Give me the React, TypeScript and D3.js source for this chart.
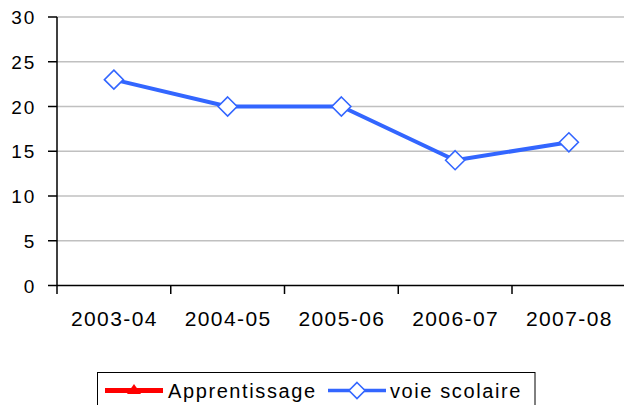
import React from "react";
import * as d3 from "d3";

const categories = ["2003-04", "2004-05", "2005-06", "2006-07", "2007-08"];
const voieScolaire = [23, 20, 20, 14, 16];
const apprentissage: (number | null)[] = [null, null, null, null, null];
const yTicks = [0, 5, 10, 15, 20, 25, 30];
const seriesNames = ["Apprentissage", "voie scolaire"];

const W = 624;
const H = 405;
const FONT = "'Liberation Sans', Arial, sans-serif";

export default function App() {
  const x = d3.scaleBand<string>().domain(categories).range([57, 625.75]);
  const y = d3.scaleLinear().domain([0, 30]).range([285.5, 17]);
  const xc = (c: string) => (x(c) as number) + x.bandwidth() / 2;

  const line = d3
    .line<number>()
    .x((_, i) => xc(categories[i]))
    .y((d) => y(d));

  const diamond = (cx: number, cy: number, r: number) =>
    `M${cx},${cy - r}L${cx + r},${cy}L${cx},${cy + r}L${cx - r},${cy}Z`;

  const boundaries = categories.map((c) => x(c) as number).concat([625.75]);

  return (
    <svg
      width={W}
      height={H}
      style={{ position: "absolute", left: 0, top: 0, background: "#fff" }}
    >
      {yTicks.slice(1).map((t) => (
        <line
          key={"g" + t}
          x1={57}
          x2={W}
          y1={y(t)}
          y2={y(t)}
          stroke="#c0c0c0"
          strokeWidth={1.5}
        />
      ))}
      <line x1={57} x2={57} y1={17} y2={286} stroke="#000" strokeWidth={1.5} />
      {yTicks.map((t) => (
        <g key={"y" + t}>
          <line x1={48} x2={57} y1={y(t)} y2={y(t)} stroke="#000" strokeWidth={1.5} />
          <text
            x={36}
            y={y(t) + 7}
            textAnchor="end"
            fontFamily={FONT}
            fontSize={19}
            letterSpacing={1.8}
            fill="#000"
          >
            {t}
          </text>
        </g>
      ))}
      <line x1={57} x2={W} y1={285.5} y2={285.5} stroke="#000" strokeWidth={1.5} />
      {boundaries.map((b, i) => (
        <line key={"xt" + i} x1={b} x2={b} y1={285.5} y2={294} stroke="#000" strokeWidth={1.5} />
      ))}
      {categories.map((c) => (
        <text
          key={"xl" + c}
          x={xc(c) + 0.5}
          y={325.5}
          textAnchor="middle"
          fontFamily={FONT}
          fontSize={21}
          letterSpacing={1.4}
          fill="#000"
        >
          {c}
        </text>
      ))}
      <path
        d={line(voieScolaire) || ""}
        fill="none"
        stroke="#3366ff"
        strokeWidth={4}
        strokeLinejoin="round"
      />
      {voieScolaire.map((v, i) => (
        <path
          key={"m" + i}
          d={diamond(xc(categories[i]), y(v), 9.5)}
          fill="#fff"
          stroke="#3366ff"
          strokeWidth={1.6}
        />
      ))}
      {apprentissage.map((v, i) =>
        v == null ? null : (
          <circle key={"a" + i} cx={xc(categories[i])} cy={y(v)} r={4} fill="red" />
        )
      )}
      <rect x={97.5} y={372.5} width={437.5} height={40} fill="#fff" stroke="#000" strokeWidth={1} />
      <line x1={105} x2={163} y1={390.5} y2={390.5} stroke="#ff0000" strokeWidth={5} />
      <path d="M134,384L141,394L127,394Z" fill="#ff0000" />
      <text x={168} y={398} fontFamily={FONT} fontSize={20} letterSpacing={1.6} fill="#000">
        {seriesNames[0]}
      </text>
      <line x1={328} x2={386} y1={390.5} y2={390.5} stroke="#3366ff" strokeWidth={3.5} />
      <path d={diamond(357, 390.5, 8)} fill="#fff" stroke="#3366ff" strokeWidth={1.6} />
      <text x={390} y={398} fontFamily={FONT} fontSize={20} letterSpacing={1.6} fill="#000">
        {seriesNames[1]}
      </text>
    </svg>
  );
}
